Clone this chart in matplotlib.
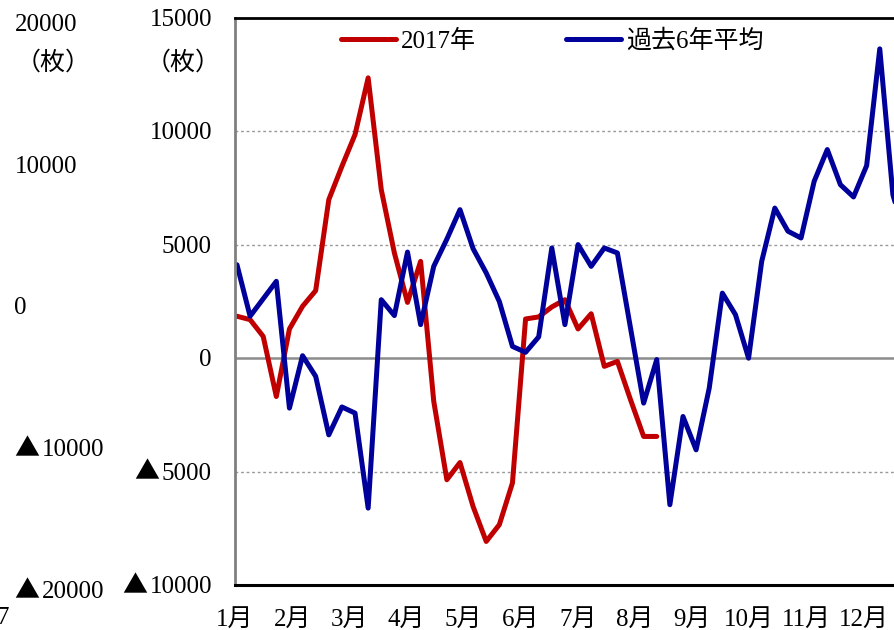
import numpy as np
import matplotlib.pyplot as plt
import matplotlib.transforms as mtransforms

plt.rcParams['font.family'] = ['Liberation Serif', 'Noto Sans CJK JP', 'DejaVu Sans']

# weekly values (枚)
y2017 = [1850, 1700, 960, -1690, 1290, 2290, 2980, 6990, 8460, 9860, 12360,
         7430, 4640, 2460, 4270, -1900, -5360, -4600, -6540, -8080, -7340,
         -5500, 1730, 1820, 2260, 2580, 1290, 1960, -360, -140, -1830,
         -3450, -3450]
avg6 = [4120, 1850, 2620, 3390, -2200, 110, -800, -3380, -2150, -2420, -6610,
        2580, 1880, 4680, 1480, 4050, 5250, 6550, 4830, 3760, 2500, 520, 260,
        940, 4860, 1480, 5010, 4050, 4860, 4640, 1330, -1980, -60, -6460,
        -2570, -4040, -1320, 2870, 1920, 0, 4270, 6620, 5600, 5300, 7800,
        9200, 7650, 7110, 8490, 13640, 7210, 5200]
months = ['1月', '2月', '3月', '4月', '5月', '6月', '7月', '8月', '9月',
          '10月', '11月', '12月']
yticks = [-10000, -5000, 0, 5000, 10000, 15000]
ghost_vals = [20000, 10000, 0, -10000, -20000]

red = '#C00000'
blue = '#00009A'
fs = 18
W, H = 895, 630
digit_px = 12.6  # width of one digit in pixels


def put_label(axis, tr, x_px, v, align):
    # number in the serif font, the ▲ sign in the CJK font (it is wider there)
    s = str(abs(v))
    w = len(s) * digit_px
    if align == 'right':
        x_right = x_px
    else:
        x_right = x_px + w + (24 if v < 0 else 0)
    base = mtransforms.offset_copy(tr, fig=fig, y=-8, units='dots')
    axis.text(x_right / W, v, s, transform=base, fontsize=fs, ha='right',
              va='baseline')
    if v < 0:
        axis.text((x_right - w - 2) / W, v, '▲', transform=base, fontsize=fs,
                  ha='right', va='baseline', family=['Noto Sans CJK JP'])


fig = plt.figure(figsize=(8.95, 6.3), dpi=100)
ax = fig.add_axes([235 / W, 1 - 585 / H, (906 - 235) / W, (585 - 18) / H])

ax.plot(np.arange(len(y2017)), y2017, color=red, lw=3.6, label='2017年',
        solid_joinstyle='round', solid_capstyle='round')
ax.plot(np.arange(len(avg6)), avg6, color=blue, lw=3.6, label='過去6年平均',
        solid_joinstyle='round', solid_capstyle='round')

ax.set_xlim(0, len(avg6) - 1)
ax.set_ylim(-10000, 15000)
ax.set_yticks(yticks)
ax.set_yticklabels([])
ax.set_xticks(np.arange(12) * 4.355 - 0.15)
ax.set_xticklabels(months, fontsize=fs)
ax.tick_params(length=0)
ax.tick_params(axis='x', pad=17)

tr_main = mtransforms.blended_transform_factory(fig.transFigure, ax.transData)
for v in yticks:
    put_label(ax, tr_main, 212, v, 'right')

for v in [10000, 5000, -5000]:
    ax.axhline(v, color='#999999', lw=1, ls=(0, (2, 2)), zorder=0)
ax.axhline(0, color='#8C8C8C', lw=1.8, zorder=1)

ax.spines['top'].set_color('black')
ax.spines['top'].set_linewidth(2)
ax.spines['bottom'].set_color('black')
ax.spines['bottom'].set_linewidth(2.2)
ax.spines['left'].set_color('#808080')
ax.spines['left'].set_linewidth(2)
ax.spines['right'].set_visible(False)

fig.text(183 / W, 1 - 63 / H, '（枚）', fontsize=fs, ha='center', va='center')

ax.legend(loc='center', bbox_to_anchor=(552 / W, 1 - 41 / H),
          bbox_transform=fig.transFigure, ncol=2, frameon=False, fontsize=fs,
          handlelength=2.2, handletextpad=0.2, columnspacing=3.6, borderpad=0)

# labels of the neighbouring chart, cut off at the left edge
ghost = fig.add_axes([0, 1 - 590 / H, 0.01, (590 - 23) / H])
ghost.axis('off')
ghost.set_ylim(-20000, 20000)
tr = mtransforms.blended_transform_factory(fig.transFigure, ghost.transData)
for v in ghost_vals:
    put_label(ghost, tr, 14 if v >= 0 else 17, v, 'left')
fig.text(53 / W, 1 - 63 / H, '（枚）', fontsize=fs, ha='center', va='center')
fig.text(9 / W, 1 - 618 / H, '7', fontsize=fs, ha='right', va='center')

plt.savefig('out.png', dpi=100)
